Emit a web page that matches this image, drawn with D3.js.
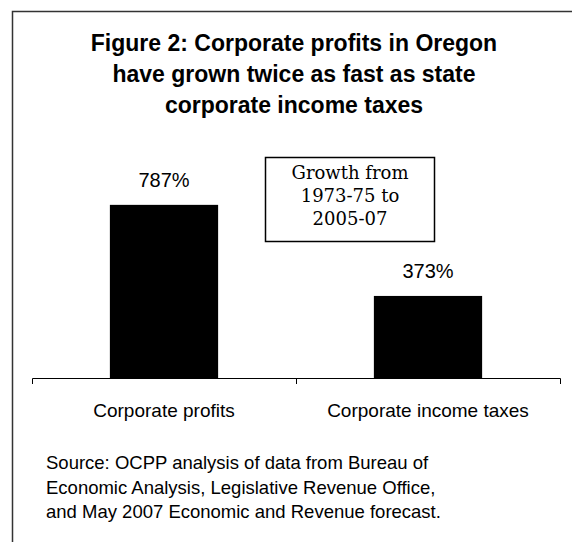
<!DOCTYPE html>
<html>
<head>
<meta charset="utf-8">
<script src="https://cdn.jsdelivr.net/npm/d3@7"></script>
<style>
  body { margin: 0; background: #fff; }
</style>
</head>
<body>
<svg id="chart" width="572" height="542"></svg>
<script>
const categories = ['Corporate profits', 'Corporate income taxes']
const growth = [787, 373]
const valueLabels = ['787%', '373%']
const titleLines = ['Figure 2: Corporate profits in Oregon', 'have grown twice as fast as state', 'corporate income taxes']
const boxLines = ['Growth from', '1973-75 to', '2005-07']
const sourceLines = ['Source: OCPP analysis of data from Bureau of', 'Economic Analysis, Legislative Revenue Office,', 'and May 2007 Economic and Revenue forecast.']

const layout = {left: 32, right: 560, base: 378, top: 180}
const sans = 'Liberation Sans, Arial, sans-serif'

const svg = d3.select('#chart')

// outer frame (cut off on right and bottom like the original)
svg.append('path')
  .attr('d', 'M12.5,600V11.5H600')
  .attr('fill', 'none')
  .attr('stroke', '#333')
  .attr('stroke-width', 1.5)

// title
svg.append('g').selectAll('text')
  .data(titleLines)
  .join('text')
  .attr('x', 294)
  .attr('y', (d, i) => 51 + i * 31)
  .attr('text-anchor', 'middle')
  .attr('font-family', sans)
  .attr('font-weight', 'bold')
  .attr('font-size', 23)
  .attr('fill', '#000')
  .text(d => d)

const x = d3.scaleBand()
  .domain(categories)
  .range([layout.left, layout.right])

const y = d3.scaleLinear()
  .domain([0, 900])
  .range([layout.base, layout.top])

const barW = x.bandwidth() * 0.41

svg.append('g').selectAll('rect')
  .data(growth)
  .join('rect')
  .attr('x', (d, i) => x(categories[i]) + x.bandwidth() / 2 - barW / 2)
  .attr('y', d => y(d))
  .attr('width', barW)
  .attr('height', d => y(0) - y(d))
  .attr('fill', '#000')

svg.append('g').selectAll('text')
  .data(growth)
  .join('text')
  .attr('x', (d, i) => x(categories[i]) + x.bandwidth() / 2)
  .attr('y', d => y(d) - 18)
  .attr('text-anchor', 'middle')
  .attr('font-family', sans)
  .attr('font-size', 20)
  .attr('fill', '#000')
  .text((d, i) => valueLabels[i])

// category axis
const gx = svg.append('g')
  .attr('transform', `translate(0, ${layout.base})`)
  .call(d3.axisBottom(x).tickSizeInner(0).tickSizeOuter(6).tickFormat(''))
gx.select('.domain').attr('stroke', '#000').attr('stroke-width', 1)

gx.selectAll('.divider')
  .data(categories.slice(1))
  .join('line')
  .attr('class', 'divider')
  .attr('x1', d => x(d) + 0.5)
  .attr('x2', d => x(d) + 0.5)
  .attr('y1', 0)
  .attr('y2', 6)
  .attr('stroke', '#000')

svg.append('g').selectAll('text')
  .data(categories)
  .join('text')
  .attr('x', d => x(d) + x.bandwidth() / 2)
  .attr('y', 417)
  .attr('text-anchor', 'middle')
  .attr('font-family', sans)
  .attr('font-size', 19)
  .attr('fill', '#000')
  .text(d => d)

// annotation box
const box = svg.append('g').attr('transform', 'translate(265.5, 157.5)')
box.append('rect')
  .attr('width', 169)
  .attr('height', 84)
  .attr('fill', '#fff')
  .attr('stroke', '#000')
  .attr('stroke-width', 1.5)
box.selectAll('text')
  .data(boxLines)
  .join('text')
  .attr('x', 84.5)
  .attr('y', (d, i) => 21 + i * 23)
  .attr('text-anchor', 'middle')
  .attr('font-family', 'DejaVu Serif, serif')
  .attr('font-size', 18)
  .attr('fill', '#000')
  .text(d => d)

// source note
svg.append('g').selectAll('text')
  .data(sourceLines)
  .join('text')
  .attr('x', 46)
  .attr('y', (d, i) => 469 + i * 24.5)
  .attr('font-family', sans)
  .attr('font-size', 18.5)
  .attr('fill', '#000')
  .text(d => d)
</script>
</body>
</html>
